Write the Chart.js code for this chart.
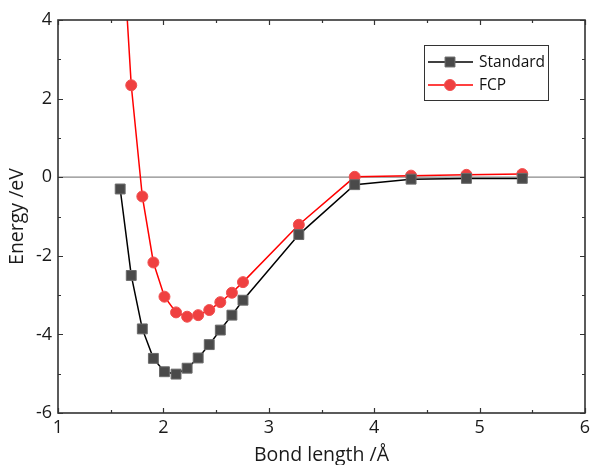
<!DOCTYPE html>
<html>
<head>
<meta charset="utf-8">
<script src="https://cdn.jsdelivr.net/npm/chart.js@4.4.1/dist/chart.umd.min.js"></script>
<style>
  html, body { margin: 0; padding: 0; background: #fff; }
  #wrap { width: 593px; height: 465px; position: relative; }
</style>
</head>
<body>
<div id="wrap"><canvas id="c" width="593" height="465"></canvas></div>
<script>
// ---- data ----
const bondLength = [1.59, 1.695, 1.80, 1.905, 2.01, 2.12, 2.225, 2.33, 2.435, 2.54, 2.65, 2.755, 3.285, 3.815, 4.35, 4.875, 5.405];
const standardEnergy = [-0.30, -2.50, -3.86, -4.61, -4.95, -5.01, -4.86, -4.60, -4.26, -3.89, -3.51, -3.13, -1.46, -0.19, -0.05, -0.03, -0.03];
const fcpEnergy = [7.0, 2.34, -0.49, -2.17, -3.04, -3.44, -3.55, -3.51, -3.38, -3.18, -2.94, -2.67, -1.21, 0.01, 0.04, 0.06, 0.08];
const seriesNames = ['Standard', 'FCP'];
const xTicks = [1, 2, 3, 4, 5, 6];
const yTicks = [-6, -4, -2, 0, 2, 4];

const FONT = "'Open Sans', 'DejaVu Sans', sans-serif";

const toPoints = (xs, ys) => xs.map((x, i) => ({ x: x, y: ys[i] }));

const framePlugin = {
  id: 'frame',
  beforeDatasetsDraw(chart) {
    const { ctx, chartArea: a, scales: { y } } = chart;
    const y0 = y.getPixelForValue(0);
    ctx.save();
    ctx.strokeStyle = '#8a8a8a';
    ctx.lineWidth = 1.2;
    ctx.beginPath();
    ctx.moveTo(a.left, y0);
    ctx.lineTo(a.right, y0);
    ctx.stroke();
    ctx.restore();
  },
  afterDatasetsDraw(chart) {
    const { ctx, chartArea: a, scales: { x, y } } = chart;
    ctx.save();
    ctx.strokeStyle = '#333';
    ctx.lineWidth = 1.6;
    ctx.strokeRect(a.left, a.top, a.right - a.left, a.bottom - a.top);
    ctx.lineWidth = 1.2;
    ctx.beginPath();
    for (let v = x.min; v <= x.max + 1e-9; v += 0.5) {
      const px = Math.round(x.getPixelForValue(v)) + 0.5;
      const len = Math.abs(v - Math.round(v)) < 1e-9 ? 5 : 3;
      ctx.moveTo(px, a.bottom); ctx.lineTo(px, a.bottom - len);
      ctx.moveTo(px, a.top); ctx.lineTo(px, a.top + len);
    }
    for (let v = y.min; v <= y.max + 1e-9; v += 1) {
      const py = Math.round(y.getPixelForValue(v)) + 0.5;
      const len = (Math.round(v) % 2 === 0) ? 5 : 3;
      ctx.moveTo(a.left, py); ctx.lineTo(a.left + len, py);
      ctx.moveTo(a.right, py); ctx.lineTo(a.right - len, py);
    }
    ctx.stroke();

    // legend box
    const bx = 424, by = 45, bw = 124, bh = 55;
    ctx.lineWidth = 1;
    ctx.strokeStyle = '#333';
    ctx.fillStyle = '#fff';
    ctx.fillRect(bx, by, bw, bh);
    ctx.strokeRect(bx + 0.5, by + 0.5, bw, bh);
    chart.data.datasets.forEach((ds, i) => {
      const ry = by + 17 + i * 23;
      ctx.strokeStyle = ds.borderColor;
      ctx.lineWidth = 1.5;
      ctx.beginPath();
      ctx.moveTo(bx + 4, ry); ctx.lineTo(bx + 49, ry);
      ctx.stroke();
      ctx.fillStyle = ds.pointBackgroundColor;
      ctx.strokeStyle = ds.pointBorderColor;
      ctx.lineWidth = 1;
      ctx.beginPath();
      if (ds.pointStyle === 'rect') {
        const s = Math.SQRT1_2 * ds.pointRadius;
        ctx.rect(bx + 26 - s, ry - s, 2 * s, 2 * s);
      } else {
        ctx.arc(bx + 26, ry, ds.pointRadius, 0, Math.PI * 2);
      }
      ctx.fill();
      ctx.stroke();
      ctx.fillStyle = '#111';
      ctx.font = '15.5px ' + FONT;
      ctx.textBaseline = 'middle';
      ctx.textAlign = 'left';
      ctx.fillText(ds.label, bx + 55, ry + 1);
    });
    ctx.restore();
  }
};

new Chart(document.getElementById('c'), {
  type: 'line',
  data: {
    datasets: [
      {
        label: seriesNames[0],
        data: toPoints(bondLength, standardEnergy),
        borderColor: '#000000',
        borderWidth: 1.5,
        pointStyle: 'rect',
        pointRadius: 7,
        pointBackgroundColor: '#4a4a4a',
        pointBorderColor: '#6a6a6a',
        pointBorderWidth: 1,
        tension: 0,
        fill: false
      },
      {
        label: seriesNames[1],
        data: toPoints(bondLength, fcpEnergy),
        borderColor: '#ff0000',
        borderWidth: 1.5,
        pointStyle: 'circle',
        pointRadius: 5.5,
        pointBackgroundColor: '#ef4040',
        pointBorderColor: '#f05050',
        pointBorderWidth: 1,
        tension: 0,
        fill: false
      }
    ]
  },
  options: {
    responsive: false,
    animation: false,
    devicePixelRatio: 1,
    layout: { padding: { left: 0, right: 5, top: 20, bottom: 0 } },
    plugins: { legend: { display: false }, tooltip: { enabled: false } },
    scales: {
      x: {
        type: 'linear',
        min: 1, max: 6,
        afterFit(s) { s.height = 52; s.paddingLeft = 0; s.paddingRight = 0; },
        afterBuildTicks(s) { s.ticks = xTicks.map(v => ({ value: v })); },
        grid: { display: false, drawTicks: false },
        border: { display: false },
        ticks: { color: '#1a1a1a', padding: 4, font: { family: FONT, size: 18 } },
        title: { display: true, text: 'Bond length /Å', color: '#1a1a1a', padding: { top: 0, bottom: -2 }, font: { family: FONT, size: 19.5 } }
      },
      y: {
        type: 'linear',
        min: -6, max: 4,
        afterFit(s) { s.width = 58; s.paddingTop = 0; s.paddingBottom = 0; },
        afterBuildTicks(s) { s.ticks = yTicks.map(v => ({ value: v })); },
        grid: { display: false, drawTicks: false },
        border: { display: false },
        ticks: { color: '#1a1a1a', padding: 6, font: { family: FONT, size: 18 } },
        title: { display: true, text: 'Energy /eV', color: '#1a1a1a', padding: { top: 6, bottom: 0 }, font: { family: FONT, size: 19.5 } }
      }
    }
  },
  plugins: [framePlugin]
});
</script>
</body>
</html>
